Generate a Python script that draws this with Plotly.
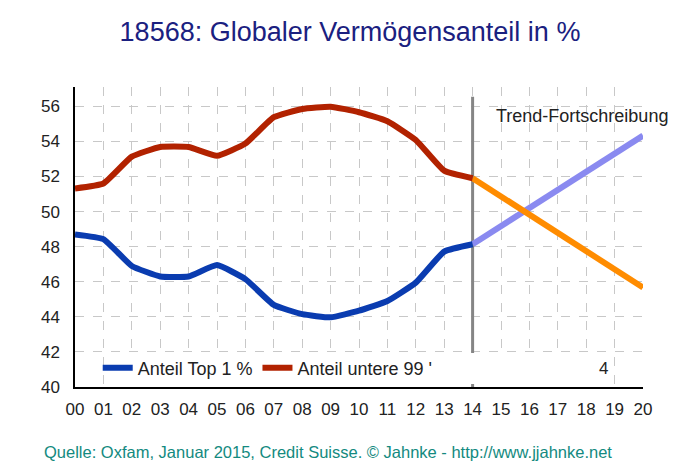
import plotly.graph_objects as go

years = list(range(0, 15))
year_labels = [f"{y:02d}" for y in range(0, 21)]
top1 = [48.7, 48.43, 46.9, 46.3, 46.3, 46.95, 46.15, 44.68, 44.15, 43.97, 44.35, 44.9, 45.95, 47.72, 48.14]
lower99 = [51.32, 51.6, 53.13, 53.68, 53.68, 53.18, 53.88, 55.38, 55.85, 55.98, 55.66, 55.15, 54.08, 52.33, 51.9]
trend_years = [14, 20]
trend_top1 = [48.14, 54.33]
trend_lower99 = [51.9, 45.67]
divider_x = [14, 14]
divider_y = [40.0, 56.55]
y_ticks = list(range(40, 58, 2))

FONT = "Liberation Sans, Arial, sans-serif"

fig = go.Figure()
fig.add_trace(go.Scatter(x=divider_x, y=divider_y, mode="lines",
                         line=dict(color="#858585", width=3), showlegend=False, hoverinfo="skip"))
fig.add_trace(go.Scatter(x=trend_years, y=trend_top1, mode="lines",
                         line=dict(color="#8A8AF0", width=6), showlegend=False))
fig.add_trace(go.Scatter(x=trend_years, y=trend_lower99, mode="lines",
                         line=dict(color="#FF8C00", width=6), showlegend=False))
fig.add_trace(go.Scatter(x=years, y=top1, mode="lines", name="Anteil Top 1 %",
                         line=dict(color="#0A3CB0", width=6, shape="spline", smoothing=0.4)))
fig.add_trace(go.Scatter(x=years, y=lower99, mode="lines", name="Anteil untere 99 '",
                         line=dict(color="#B22200", width=6, shape="spline", smoothing=0.4)))
for tr in fig.data:
    tr.cliponaxis = False

fig.update_layout(
    width=700, height=476,
    paper_bgcolor="white", plot_bgcolor="white",
    margin=dict(l=75, r=57, t=87, b=89),
    font=dict(family=FONT, size=17, color="#222222"),
    title=dict(text="18568: Globaler Vermögensanteil in %", x=0.5, xanchor="center",
               y=1 - 32 / 476, yanchor="middle",
               font=dict(size=27, color="#1A2080")),
    xaxis=dict(range=[0, 20], tickmode="array", tickvals=list(range(0, 21)), ticktext=year_labels,
               showgrid=True, gridcolor="#C8C8C8", griddash="dash", gridwidth=1,
               showline=True, linecolor="black", linewidth=1.5, ticks="", zeroline=False,
               ticklabelstandoff=6, tickfont=dict(size=17, color="#222222")),
    yaxis=dict(range=[40, 57.1], tickmode="array", tickvals=y_ticks,
               showgrid=True, gridcolor="#C8C8C8", griddash="dash", gridwidth=1,
               showline=True, linecolor="black", linewidth=1.5, ticks="", zeroline=False,
               ticklabelstandoff=10, tickfont=dict(size=17, color="#222222")),
    legend=dict(orientation="h", x=0.04, y=0.063, xanchor="left", yanchor="middle",
                bgcolor="rgba(255,255,255,0)", font=dict(size=18, color="#222222"),
                itemwidth=30, tracegroupgap=0),
    shapes=[dict(type="rect", xref="paper", yref="paper", x0=0.053, x1=0.937, y0=0.01, y1=0.113,
                 fillcolor="white", line=dict(width=0), layer="above")],
    annotations=[
        dict(text="Trend-Fortschreibung", xref="paper", yref="paper", x=(494 - 75) / 568, y=(387 - 116) / 300,
             xanchor="left", yanchor="middle", showarrow=False, font=dict(size=18, color="#222222")),
        dict(text="4", xref="paper", yref="paper", x=(603 - 75) / 568, y=0.063,
             xanchor="center", yanchor="middle", showarrow=False, font=dict(size=17, color="#222222")),
        dict(text="Quelle: Oxfam, Januar 2015, Credit Suisse. © Jahnke - http://www.jjahnke.net",
             xref="paper", yref="paper", x=(328 - 75) / 568, y=-(452 - 387) / 300,
             xanchor="center", yanchor="middle", showarrow=False,
             font=dict(size=16.5, color="#138A80")),
    ],
)
fig.write_html("out.html", config={"displayModeBar": False},
               post_script="document.body.style.margin='0px';")
